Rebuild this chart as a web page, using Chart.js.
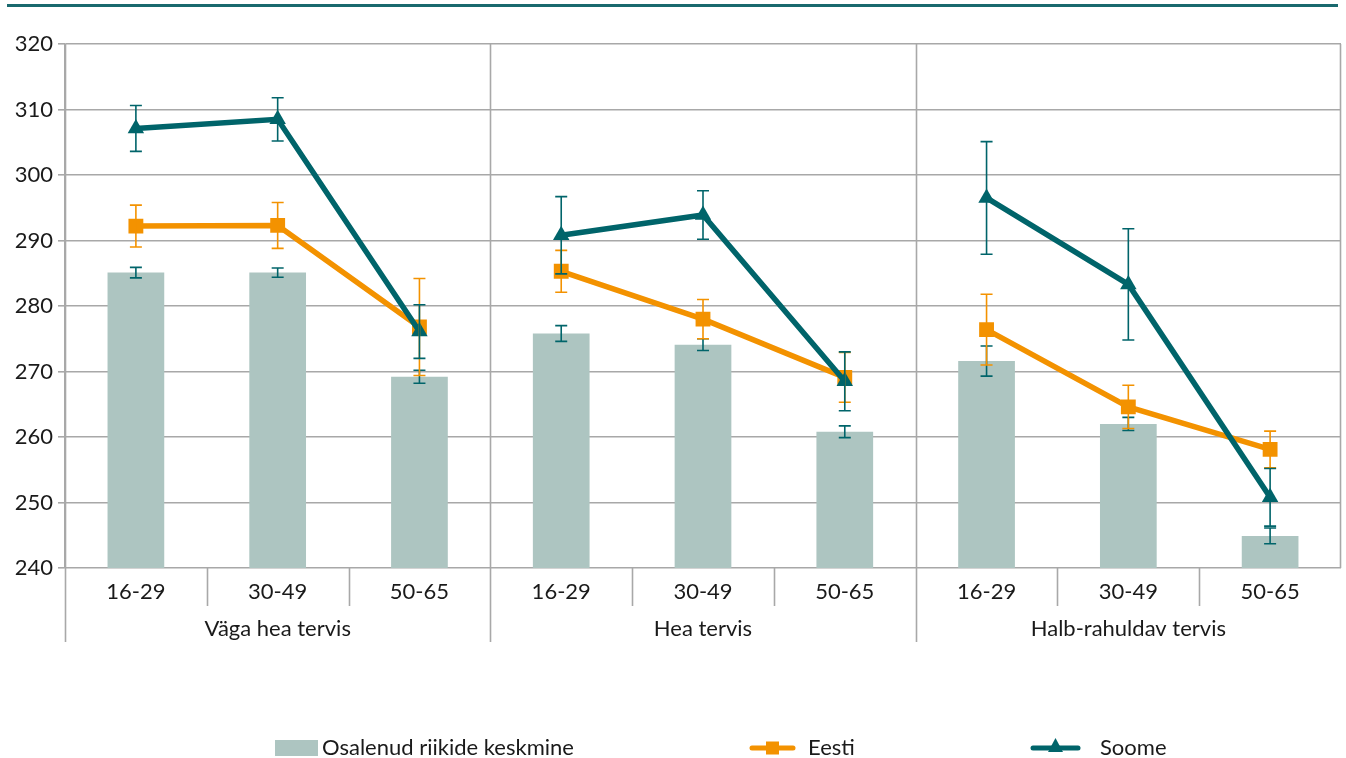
<!DOCTYPE html>
<html>
<head>
<meta charset="utf-8">
<script src="https://cdn.jsdelivr.net/npm/chart.js@4.4.1/dist/chart.umd.min.js"></script>
<style>
  html, body { margin: 0; padding: 0; background: #fff; }
  #wrap { width: 1346px; height: 758px; }
</style>
</head>
<body>
<div id="wrap"><canvas id="chart" width="1346" height="758"></canvas></div>
<script>
// vanuserühmad ja terviserühmad
const ages = ['16-29', '30-49', '50-65', '16-29', '30-49', '50-65', '16-29', '30-49', '50-65'];
const groups = ['Väga hea tervis', 'Hea tervis', 'Halb-rahuldav tervis'];

const keskmine = [285.1, 285.1, 269.2, 275.8, 274.1, 260.8, 271.6, 262.0, 244.9];
const keskmineErr = [0.8, 0.7, 1.0, 1.2, 0.9, 0.9, 2.3, 1.0, 1.2];
const eesti = [292.2, 292.3, 276.8, 285.3, 278.0, 269.1, 276.4, 264.6, 258.1];
const eestiErr = [3.2, 3.5, 7.4, 3.2, 3.0, 3.8, 5.4, 3.3, 2.8];
const soome = [307.1, 308.5, 276.1, 290.8, 293.9, 268.5, 296.5, 283.3, 250.8];
const soomeErr = [3.5, 3.3, 4.1, 5.9, 3.7, 4.5, 8.6, 8.5, 4.4];

const barColor = '#adc5c1';
const orange = '#f39200';
const teal = '#00646a';
const gridColor = '#a8a8a8';
const textColor = '#1a1a1a';
const fontFamily = 'Lato, sans-serif';
const fontSize = 22;

// no line between the three health groups
const gap = color => ctx => (ctx.p0DataIndex % 3 === 2 ? 'rgba(0,0,0,0)' : color);

const errorBars = {
    id: 'errorBars',
    afterDatasetsDraw(chart) {
        const ctx = chart.ctx;
        const y = chart.scales.y;
        chart.data.datasets.forEach((ds, di) => {
            const meta = chart.getDatasetMeta(di);
            ctx.save();
            ctx.strokeStyle = ds.errColor;
            ctx.lineWidth = 1.6;
            ds.data.forEach((v, i) => {
                const x = meta.data[i].x;
                const top = y.getPixelForValue(v + ds.err[i]);
                const bot = y.getPixelForValue(v - ds.err[i]);
                ctx.beginPath();
                ctx.moveTo(x, top); ctx.lineTo(x, bot);
                ctx.moveTo(x - 6, top); ctx.lineTo(x + 6, top);
                ctx.moveTo(x - 6, bot); ctx.lineTo(x + 6, bot);
                ctx.stroke();
            });
            ctx.restore();
        });
    }
};

const decor = {
    id: 'decor',
    beforeDatasetsDraw(chart) {
        const ctx = chart.ctx;
        const area = chart.chartArea;
        const step = (area.right - area.left) / ages.length;
        ctx.save();
        ctx.strokeStyle = gridColor;
        ctx.lineWidth = 1.6;
        ctx.beginPath();
        // group borders go down past the labels
        for (let g = 0; g <= groups.length; g++) {
            const gx = Math.round(area.left + g * 3 * step) + 0.5;
            if (g < groups.length) {
                ctx.moveTo(gx, area.top); ctx.lineTo(gx, 642);
            } else {
                ctx.moveTo(gx - 1, area.top); ctx.lineTo(gx - 1, area.bottom);
            }
        }
        // short separators between age classes
        for (let i = 1; i < ages.length; i++) {
            if (i % 3 === 0) continue;
            const sx = Math.round(area.left + i * step) + 0.5;
            ctx.moveTo(sx, area.bottom); ctx.lineTo(sx, 606);
        }
        ctx.stroke();
        ctx.restore();
    },
    afterDraw(chart) {
        const ctx = chart.ctx;
        const area = chart.chartArea;
        const step = (area.right - area.left) / ages.length;
        ctx.save();
        // top rule
        ctx.strokeStyle = '#19696e';
        ctx.lineWidth = 3;
        ctx.beginPath();
        ctx.moveTo(7, 5.5); ctx.lineTo(1338, 5.5);
        ctx.stroke();
        // group labels
        ctx.fillStyle = textColor;
        ctx.font = fontSize + 'px ' + fontFamily;
        ctx.textAlign = 'center';
        ctx.textBaseline = 'middle';
        groups.forEach((g, i) => {
            ctx.fillText(g, area.left + (i * 3 + 1.5) * step, 629);
        });
        // legend
        const ly = 748;
        ctx.textAlign = 'left';
        ctx.fillStyle = barColor;
        ctx.fillRect(275, ly - 8, 43, 16);
        ctx.fillStyle = textColor;
        ctx.fillText('Osalenud riikide keskmine', 322, ly);

        ctx.strokeStyle = orange;
        ctx.lineWidth = 5;
        ctx.lineCap = 'round';
        ctx.beginPath(); ctx.moveTo(752, ly); ctx.lineTo(793, ly); ctx.stroke();
        ctx.fillStyle = orange;
        ctx.fillRect(766, ly - 6.5, 13, 13);
        ctx.fillStyle = textColor;
        ctx.fillText('Eesti', 808, ly);

        ctx.strokeStyle = teal;
        ctx.beginPath(); ctx.moveTo(1033, ly); ctx.lineTo(1078, ly); ctx.stroke();
        ctx.fillStyle = teal;
        ctx.beginPath();
        ctx.moveTo(1055.5, ly - 10); ctx.lineTo(1063, ly + 4); ctx.lineTo(1048, ly + 4);
        ctx.closePath(); ctx.fill();
        ctx.fillStyle = textColor;
        ctx.fillText('Soome', 1100, ly);
        ctx.restore();
    }
};

new Chart(document.getElementById('chart'), {
    type: 'bar',
    data: {
        labels: ages,
        datasets: [{
            type: 'bar',
            label: 'Osalenud riikide keskmine',
            data: keskmine,
            err: keskmineErr,
            errColor: teal,
            backgroundColor: barColor,
            barPercentage: 0.4,
            categoryPercentage: 1,
            order: 3
        }, {
            type: 'line',
            label: 'Eesti',
            data: eesti,
            err: eestiErr,
            errColor: orange,
            borderColor: orange,
            backgroundColor: orange,
            borderWidth: 5.5,
            pointStyle: 'rect',
            pointRadius: 10.5,
            pointBorderWidth: 0,
            segment: { borderColor: gap(orange) },
            order: 2
        }, {
            type: 'line',
            label: 'Soome',
            data: soome,
            err: soomeErr,
            errColor: teal,
            borderColor: teal,
            backgroundColor: teal,
            borderWidth: 5.5,
            pointStyle: 'triangle',
            pointRadius: 9.5,
            pointBorderWidth: 0,
            segment: { borderColor: gap(teal) },
            order: 1
        }]
    },
    options: {
        responsive: false,
        animation: false,
        layout: { autoPadding: false, padding: { left: 0, top: 44, right: 5, bottom: 0 } },
        plugins: {
            legend: { display: false },
            tooltip: { enabled: false }
        },
        scales: {
            x: {
                grid: { display: false, drawTicks: false },
                border: { display: false },
                ticks: { color: textColor, font: { family: fontFamily, size: fontSize }, padding: 11, maxRotation: 0 },
                afterFit: s => { s.height = 190; }
            },
            y: {
                min: 240,
                max: 320,
                ticks: { stepSize: 10, color: textColor, font: { family: fontFamily, size: fontSize }, padding: 5 },
                grid: { color: gridColor, lineWidth: 1.6, tickLength: 7 },
                border: { color: gridColor, width: 1.6 },
                afterFit: s => { s.width = 65; }
            }
        }
    },
    plugins: [decor, errorBars]
});
</script>
</body>
</html>
